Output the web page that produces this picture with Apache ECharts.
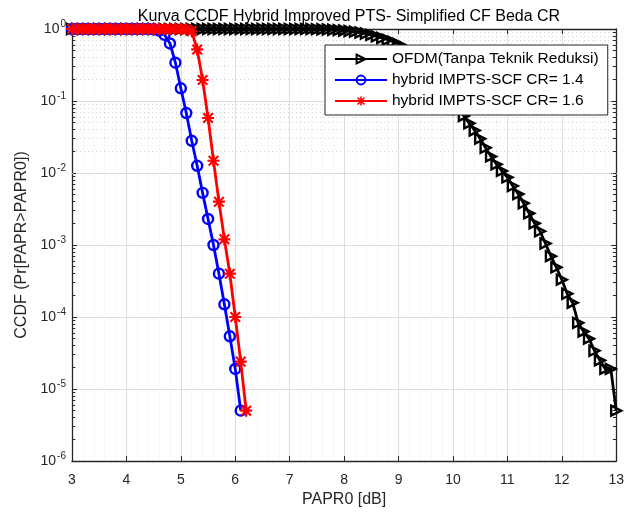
<!DOCTYPE html>
<html>
<head>
<meta charset="utf-8">
<script src="https://cdn.jsdelivr.net/npm/echarts@6/dist/echarts.min.js"></script>
<style>html,body{margin:0;padding:0;background:#fff}#c{width:627px;height:513px}</style>
</head>
<body>
<div id="c"></div>
<script>
// ---------- data ----------
const titleText = 'Kurva CCDF Hybrid Improved PTS- Simplified CF Beda CR';
const xName = 'PAPR0 [dB]';
const yName = 'CCDF (Pr[PAPR>PAPR0])';
const seriesNames = ['OFDM(Tanpa Teknik Reduksi)', 'hybrid IMPTS-SCF CR= 1.4', 'hybrid IMPTS-SCF CR= 1.6'];
const xTicks = [3, 4, 5, 6, 7, 8, 9, 10, 11, 12, 13];
const yTicks = [1e-6, 1e-5, 1e-4, 1e-3, 1e-2, 1e-1, 1];

const ofdmX = [3.0,3.1,3.2,3.3,3.4,3.5,3.6,3.7,3.8,3.9,4.0,4.1,4.2,4.3,4.4,4.5,4.6,4.7,4.8,4.9,
  5.0,5.1,5.2,5.3,5.4,5.5,5.6,5.7,5.8,5.9,6.0,6.1,6.2,6.3,6.4,6.5,6.6,6.7,6.8,6.9,
  7.0,7.1,7.2,7.3,7.4,7.5,7.6,7.7,7.8,7.9,8.0,8.1,8.2,8.3,8.4,8.5,8.6,8.7,8.8,8.9,
  9.0,9.1,9.2,9.3,9.4,9.5,9.6,9.7,9.8,9.9,10.0,10.1,10.2,10.3,10.4,10.5,10.6,10.7,10.8,10.9,
  11.0,11.1,11.2,11.3,11.4,11.5,11.6,11.7,11.8,11.9,12.0,12.1,12.2,12.3,12.4,12.5,12.6,12.7,12.8,12.9,13.0];
const ofdmY = [1,1,1,1,1,1,1,1,1,1,1,1,1,1,1,1,1,1,1,1,
  1,1,1,1,1,1,1,1,1,1,1,1,1,1,1,1,1,1,1,1,
  1,1,1,1,1,0.995,0.99,0.985,0.975,0.965,0.955,0.94,0.92,0.895,0.865,0.83,0.79,0.75,0.71,0.665,
  0.62,0.565,0.49,0.42,0.355,0.295,0.245,0.2,0.162,0.126,0.1,0.078,0.062,0.049,0.039,0.03,0.0224,0.017,0.0132,0.0107,
  0.0087,0.0066,0.0051,0.0038,0.00275,0.002,0.00155,0.00105,0.0007,0.00049,0.00033,0.00021,0.000158,0.000083,0.000063,0.00005,0.000034,0.000025,0.000019,0.000019,0.000005];

const cr14X = [3.0,3.1,3.2,3.3,3.4,3.5,3.6,3.7,3.8,3.9,4.0,4.1,4.2,4.3,4.4,4.5,4.6,4.7,4.8,4.9,
  5.0,5.1,5.2,5.3,5.4,5.5,5.6,5.7,5.8,5.9,6.0,6.1];
const cr14Y = [1,1,1,1,1,1,1,1,1,1,1,1,1,1,0.999,0.99,0.95,0.83,0.63,0.34,
  0.15,0.068,0.028,0.0126,0.0053,0.0023,0.001,0.0004,0.00015,0.000054,0.000019,0.000005];

const cr16X = [3.0,3.1,3.2,3.3,3.4,3.5,3.6,3.7,3.8,3.9,4.0,4.1,4.2,4.3,4.4,4.5,4.6,4.7,4.8,4.9,
  5.0,5.1,5.2,5.3,5.4,5.5,5.6,5.7,5.8,5.9,6.0,6.1,6.2];
const cr16Y = [1,1,1,1,1,1,1,1,1,1,1,1,1,1,1,1,1,1,1,1,
  1,0.995,0.93,0.52,0.196,0.058,0.0148,0.004,0.0012,0.0004,0.0001,0.000024,0.000005];

// ---------- helpers ----------
const zip = (xs, ys) => xs.map((x, i) => [x, ys[i]]);
const FONT = "'Liberation Sans', Arial, sans-serif";
const AX = '#262626';

// minor log gridlines (2..9 within each decade)
const minorVals = [];
for (let d = 0; d < yTicks.length - 1; d++) {
  for (let k = 2; k <= 9; k++) minorVals.push(yTicks[d] * k);
}
const minorGrid = minorVals.map(v => ({ yAxis: v }));
const minorTicks = [];
minorVals.forEach(v => {
  minorTicks.push([{ coord: [xTicks[0], v] }, { coord: [xTicks[0] + 0.06, v] }]);
  minorTicks.push([{ coord: [xTicks[xTicks.length - 1] - 0.06, v] }, { coord: [xTicks[xTicks.length - 1], v] }]);
});

const asterisk = 'path://M8.2,0L11.8,0L11.8,20L8.2,20Z M0,8.2L20,8.2L20,11.8L0,11.8Z M0.8,3.3L3.3,0.8L19.2,16.7L16.7,19.2Z M16.7,0.8L19.2,3.3L3.3,19.2L0.8,16.7Z';

const supLabel = v => {
  const e = Math.round(Math.log10(v));
  return '{b|10}{s|' + e + '}';
};

const chart = echarts.init(document.getElementById('c'), null, { renderer: 'canvas' });
chart.setOption({
  animation: false,
  backgroundColor: '#fff',
  title: {
    text: titleText,
    left: 344, top: 4, textAlign: 'center', z: 20,
    textStyle: { fontFamily: FONT, fontSize: 16, fontWeight: 'normal', color: '#000' }
  },
  grid: { left: 72, right: 6, top: 29, bottom: 51, show: false },
  legend: {
    data: seriesNames,
    orient: 'vertical',
    left: 325, top: 45, z: 30,
    itemWidth: 52, itemHeight: 11, itemGap: 5,
    padding: [6, 9, 6, 9],
    borderColor: AX, borderWidth: 1, backgroundColor: '#fff',
    textStyle: { fontFamily: FONT, fontSize: 15.5, color: '#000' }
  },
  xAxis: [{
    type: 'value', min: xTicks[0], max: xTicks[xTicks.length - 1], interval: 1,
    name: xName, nameLocation: 'middle', nameGap: 31,
    nameTextStyle: { fontFamily: FONT, fontSize: 16, color: AX },
    axisLine: { lineStyle: { color: AX, width: 1.3 } },
    axisTick: { inside: true, length: 5, lineStyle: { color: AX } },
    axisLabel: { fontFamily: FONT, fontSize: 14, color: AX, margin: 12 },
    splitLine: { show: true, lineStyle: { color: '#dedede', width: 1 } },
    minorTick: { show: false, splitNumber: 5 },
    minorSplitLine: { show: true, lineStyle: { color: '#e0e0e0', width: 1, type: [1, 3] } }
  }, {
    type: 'value', position: 'top', min: xTicks[0], max: xTicks[xTicks.length - 1], interval: 1,
    axisLine: { onZero: false, lineStyle: { color: AX, width: 1.3 } },
    axisTick: { inside: true, length: 5, lineStyle: { color: AX } },
    axisLabel: { show: false }, splitLine: { show: false }
  }],
  yAxis: [{
    type: 'log', logBase: 10, min: yTicks[0], max: yTicks[yTicks.length - 1], interval: 1,
    name: yName, nameLocation: 'middle', nameGap: 41, nameRotate: 90,
    nameTextStyle: { fontFamily: FONT, fontSize: 16, color: AX },
    axisLine: { show: true, onZero: false, lineStyle: { color: AX, width: 1.3 } },
    axisTick: { show: true, inside: true, length: 5, lineStyle: { color: AX } },
    axisLabel: {
      margin: 6, formatter: supLabel,
      rich: {
        b: { fontFamily: FONT, fontSize: 14, color: AX },
        s: { fontFamily: FONT, fontSize: 10, color: AX, padding: [0, 0, 10, 1] }
      }
    },
    splitLine: { show: true, lineStyle: { color: '#dedede', width: 1 } }
  }, {
    type: 'log', logBase: 10, position: 'right', min: yTicks[0], max: yTicks[yTicks.length - 1], interval: 1,
    axisLine: { show: true, onZero: false, lineStyle: { color: AX, width: 1.3 } },
    axisTick: { show: true, inside: true, length: 5, lineStyle: { color: AX } },
    axisLabel: { show: false }, splitLine: { show: false }
  }],
  series: [{
    name: 'minor', type: 'line', data: [], silent: true, z: 1,
    markLine: {
      silent: true, symbol: 'none', animation: false, label: { show: false },
      lineStyle: { color: '#d4d4d4', width: 1, type: [1, 3] },
      data: minorGrid
    }
  }, {
    name: 'minorTicks', type: 'line', data: [], silent: true, z: 3,
    markLine: {
      silent: true, symbol: 'none', animation: false, label: { show: false },
      lineStyle: { color: AX, width: 1, type: 'solid' },
      data: minorTicks
    }
  }, {
    name: seriesNames[0], type: 'line', data: zip(ofdmX, ofdmY), clip: false, z: 5,
    lineStyle: { color: '#000', width: 2.8 },
    symbol: 'triangle', symbolRotate: -90, symbolSize: 10,
    itemStyle: { color: 'rgba(0,0,0,0)', borderColor: '#000', borderWidth: 2.4 }
  }, {
    name: seriesNames[1], type: 'line', data: zip(cr14X, cr14Y), clip: false, z: 6,
    lineStyle: { color: '#0000ff', width: 2.8 },
    symbol: 'circle', symbolSize: 10,
    itemStyle: { color: 'rgba(0,0,0,0)', borderColor: '#0000ff', borderWidth: 2.4 }
  }, {
    name: seriesNames[2], type: 'line', data: zip(cr16X, cr16Y), clip: false, z: 7,
    lineStyle: { color: '#ff0000', width: 2.8 },
    symbol: asterisk, symbolSize: 12,
    itemStyle: { color: '#ff0000', borderWidth: 0 }
  }]
});
</script>
</body>
</html>
